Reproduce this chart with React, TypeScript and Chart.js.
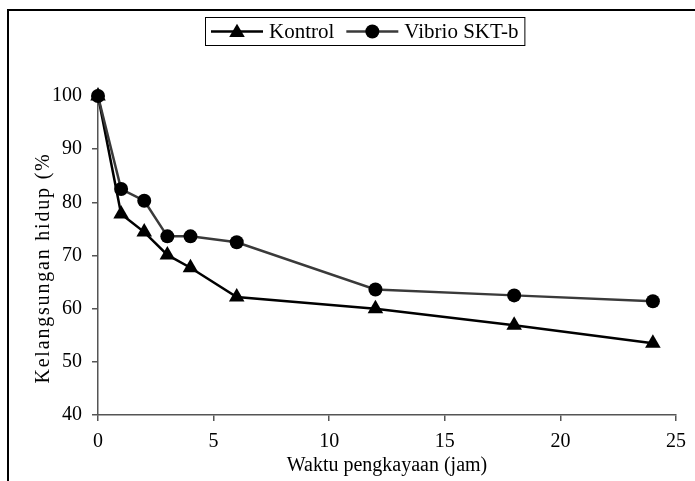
import React, { useEffect, useRef } from "react";
import { Chart, registerables } from "chart.js";

Chart.register(...registerables);

const hours = [0, 1, 2, 3, 4, 6, 12, 18, 24];
const kontrol = [100, 77.8, 74.4, 70.1, 67.7, 62.2, 60.0, 56.9, 53.5];
const vibrio = [100, 82.5, 80.3, 73.6, 73.6, 72.5, 63.6, 62.5, 61.4];
const seriesLabels = ["Kontrol", "Vibrio SKT-b"];
const xTitle = "Waktu pengkayaan (jam)";
const yTitle = "Kelangsungan hidup (%";
const xRange = [0, 25, 5];
const yRange = [40, 100, 10];

const FONT = '"Liberation Serif", "Times New Roman", serif';

const framePlugin = {
  id: "frameLegend",
  beforeDraw(chart: any) {
    const ctx = chart.ctx;
    ctx.save();
    ctx.fillStyle = "#fff";
    ctx.fillRect(0, 0, chart.width, chart.height);
    ctx.strokeStyle = "#000";
    ctx.lineWidth = 2;
    ctx.beginPath();
    ctx.moveTo(8, chart.height + 5);
    ctx.lineTo(8, 10);
    ctx.lineTo(chart.width + 5, 10);
    ctx.stroke();
    ctx.restore();
  },
  afterDraw(chart: any) {
    const ctx = chart.ctx;
    // y axis title
    ctx.save();
    ctx.translate(44, 268);
    ctx.rotate(-Math.PI / 2);
    ctx.font = `20px ${FONT}`;
    ctx.fillStyle = "#000";
    ctx.textAlign = "center";
    ctx.textBaseline = "middle";
    try {
      (ctx as any).letterSpacing = "1.8px";
    } catch (e) {}
    ctx.fillText(yTitle, 0, 0);
    ctx.restore();

    // legend
    ctx.save();
    ctx.font = `21px ${FONT}`;
    const lineLen = 52;
    const gapAfterLine = 6;
    const gapBetween = 12;
    const padX = 6;
    const ds = chart.data.datasets;
    const order = [0, 1];
    const widths = order.map((i) => ctx.measureText(ds[i].label).width);
    let total = padX * 2;
    widths.forEach((w, k) => {
      total += lineLen + gapAfterLine + w + (k < widths.length - 1 ? gapBetween : 0);
    });
    const cx = 365;
    const top = 17;
    const h = 28;
    const left = Math.round(cx - total / 2);
    ctx.strokeStyle = "#000";
    ctx.lineWidth = 1;
    ctx.strokeRect(left + 0.5, top + 0.5, total, h);
    let x = left + padX;
    const cy = top + h / 2 + 0.5;
    order.forEach((i, k) => {
      const d = ds[i];
      ctx.strokeStyle = d.borderColor;
      ctx.lineWidth = 2.5;
      ctx.beginPath();
      ctx.moveTo(x, cy);
      ctx.lineTo(x + lineLen, cy);
      ctx.stroke();
      const mx = x + lineLen / 2;
      ctx.fillStyle = "#000";
      ctx.beginPath();
      if (d.pointStyle === "triangle") {
        const r = d.pointRadius;
        ctx.moveTo(mx, cy - r * 0.85);
        ctx.lineTo(mx + r * 0.866, cy + r * 0.6);
        ctx.lineTo(mx - r * 0.866, cy + r * 0.6);
        ctx.closePath();
      } else {
        ctx.arc(mx, cy, d.pointRadius, 0, Math.PI * 2);
      }
      ctx.fill();
      x += lineLen + gapAfterLine;
      ctx.fillStyle = "#000";
      ctx.textBaseline = "middle";
      ctx.textAlign = "left";
      ctx.fillText(d.label, x, cy + 1);
      x += widths[k] + gapBetween;
    });
    ctx.restore();
  },
};

export default function App() {
  const ref = useRef<HTMLCanvasElement>(null);

  useEffect(() => {
    if (!ref.current) return;
    const axisColor = "#555";
    const tickFont = { family: FONT, size: 20 };
    const chart = new Chart(ref.current, {
      type: "line",
      data: {
        datasets: [
          {
            label: seriesLabels[0],
            data: hours.map((h, i) => ({ x: h, y: kontrol[i] })),
            borderColor: "#000",
            backgroundColor: "#000",
            borderWidth: 2.5,
            pointStyle: "triangle",
            pointRadius: 9,
            pointBackgroundColor: "#000",
            pointBorderColor: "#000",
            pointBorderWidth: 0,
            tension: 0,
            clip: false,
            order: 1,
          },
          {
            label: seriesLabels[1],
            data: hours.map((h, i) => ({ x: h, y: vibrio[i] })),
            borderColor: "#3a3a3a",
            backgroundColor: "#000",
            borderWidth: 2.5,
            pointStyle: "circle",
            pointRadius: 7,
            pointBackgroundColor: "#000",
            pointBorderColor: "#000",
            pointBorderWidth: 0,
            tension: 0,
            clip: false,
            order: 0,
          },
        ],
      },
      options: {
        animation: false,
        responsive: false,
        devicePixelRatio: 1,
        layout: { padding: { top: 96, right: 16, left: 0, bottom: 0 } },
        plugins: {
          legend: { display: false },
          tooltip: { enabled: false },
        },
        scales: {
          x: {
            type: "linear",
            min: xRange[0],
            max: xRange[1],
            ticks: { stepSize: xRange[2], font: tickFont, color: "#000", padding: 9 },
            grid: {
              display: true,
              drawOnChartArea: false,
              drawTicks: true,
              tickLength: 6,
              color: axisColor,
              lineWidth: 1.5,
            },
            border: { color: axisColor, width: 1.5 },
            title: {
              display: true,
              text: xTitle,
              font: { family: FONT, size: 20 },
              color: "#000",
              padding: { top: 0, bottom: 3 },
            },
            afterFit: (s: any) => {
              s.height = 66;
            },
          },
          y: {
            type: "linear",
            min: yRange[0],
            max: yRange[1],
            ticks: { stepSize: yRange[2], font: tickFont, color: "#000", padding: 10 },
            grid: {
              display: true,
              drawOnChartArea: false,
              drawTicks: true,
              tickLength: 6,
              color: axisColor,
              lineWidth: 1.5,
            },
            border: { color: axisColor, width: 1.5 },
            title: { display: false, text: yTitle },
            afterFit: (s: any) => {
              s.width = 98;
            },
          },
        },
      },
      plugins: [framePlugin],
    } as any);
    return () => chart.destroy();
  }, []);

  return (
    <div style={{ position: "fixed", left: 0, top: 0, width: 695, height: 481, background: "#fff" }}>
      <canvas ref={ref} width={695} height={481} style={{ display: "block", width: 695, height: 481 }} />
    </div>
  );
}
